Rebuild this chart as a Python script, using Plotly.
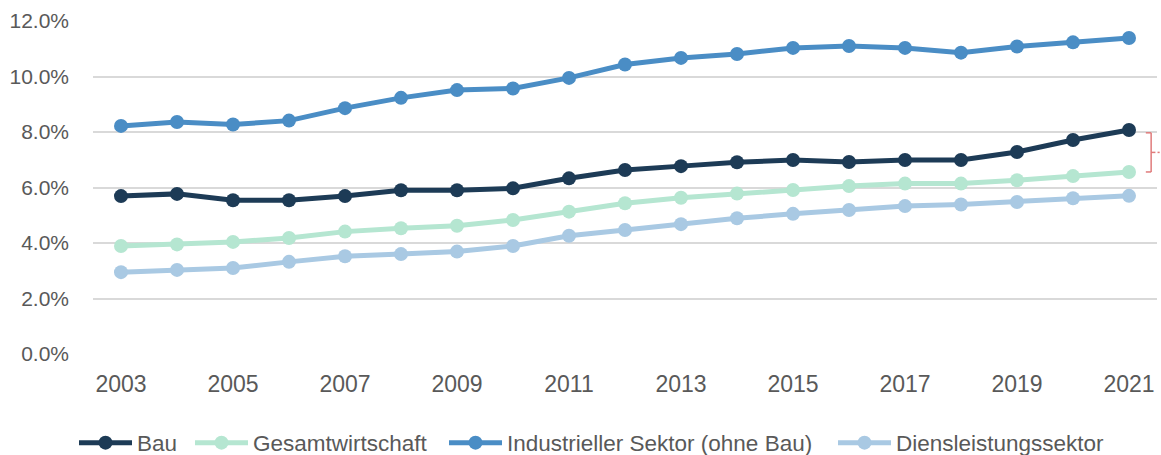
import plotly.graph_objects as go

years = list(range(2003, 2022))
bau = [5.69, 5.77, 5.54, 5.54, 5.69, 5.90, 5.90, 5.97, 6.33, 6.63, 6.77, 6.91, 6.99, 6.92, 6.99, 6.99, 7.28, 7.71, 8.07]
gesamt = [3.89, 3.95, 4.04, 4.18, 4.41, 4.53, 4.62, 4.83, 5.13, 5.43, 5.63, 5.78, 5.91, 6.05, 6.14, 6.14, 6.26, 6.41, 6.56]
industrie = [8.22, 8.36, 8.27, 8.41, 8.86, 9.23, 9.51, 9.57, 9.95, 10.43, 10.67, 10.81, 11.03, 11.10, 11.03, 10.86, 11.08, 11.23, 11.39]
dienst = [2.95, 3.03, 3.10, 3.32, 3.52, 3.60, 3.69, 3.89, 4.26, 4.47, 4.68, 4.89, 5.05, 5.19, 5.33, 5.39, 5.48, 5.61, 5.70]

series_names = ["Bau", "Gesamtwirtschaft", "Industrieller Sektor (ohne Bau)", "Diensleistungssektor"]
series_values = [bau, gesamt, industrie, dienst]
colors = ["#1D3B56", "#B5E6D1", "#4A8DC5", "#A9C9E3"]
legend_ids = ["legend", "legend2", "legend3", "legend4"]
legend_text_x = [138, 254, 508, 897]  # left edge of each legend label (px)
xtick_years = list(range(2003, 2022, 2))

W, H = 1161, 455
ML, MR, MT, MB = 93, 4, 21, 101
PW, PH = W - ML - MR, H - MT - MB

fig = go.Figure()
draw_order = [3, 1, 0, 2]
for i in draw_order:
    fig.add_trace(go.Scatter(
        x=years, y=[v / 100 for v in series_values[i]], name=series_names[i],
        mode="lines+markers", legend=legend_ids[i],
        line=dict(color=colors[i], width=5), marker=dict(color=colors[i], size=14),
    ))

bracket_col = "#E07B7B"
top = bau[-1] / 100 - 0.001
bot = gesamt[-1] / 100
mid = (top + bot) / 2
x0, x1, x2 = 0.9895, 0.9945, 0.9985
seg = [(x0, top, x1, top), (x1, top, x1, bot), (x0, bot, x1, bot), (x1, mid, x2, mid), (1.0005, mid, 1.0025, mid)]
for a, b, c, d in seg:
    fig.add_shape(type="line", xref="paper", yref="y", x0=a, y0=b, x1=c, y1=d,
                  line=dict(color=bracket_col, width=1.5), layer="above")

ITEMW = 53
legend_common = dict(orientation="h", xanchor="left", xref="paper", yref="paper",
                     y=(MT + PH - 443) / PH, yanchor="middle",
                     font=dict(size=22.5, color="#595959"),
                     bgcolor="rgba(0,0,0,0)", itemwidth=ITEMW)
layout_legends = {}
for lid, tx in zip(legend_ids, legend_text_x):
    px = tx - (ITEMW + 11)
    layout_legends[lid] = dict(legend_common, x=(px - ML) / PW)

fig.update_layout(
    width=W, height=H,
    margin=dict(l=ML, r=MR, t=MT, b=MB, autoexpand=False),
    plot_bgcolor="white", paper_bgcolor="white",
    font=dict(family="Liberation Sans, Arial, sans-serif", color="#595959"),
    showlegend=True,
    xaxis=dict(range=[2002.5, 2021.5], tickvals=xtick_years, automargin=False,
               tickfont=dict(size=23), showgrid=False, zeroline=False,
               showline=False, ticks="", ticklabelstandoff=14),
    yaxis=dict(range=[0, 0.12], dtick=0.02, tickformat=".1%", automargin=False,
               tickfont=dict(size=21), showgrid=True, gridcolor="#D9D9D9",
               gridwidth=1.5, zeroline=False, showline=False, ticks="",
               ticklabelstandoff=23),
    **layout_legends,
)

fig.write_html("out.html", config={"displayModeBar": False},
               post_script="document.body.style.margin='0';document.body.style.overflow='hidden';")
